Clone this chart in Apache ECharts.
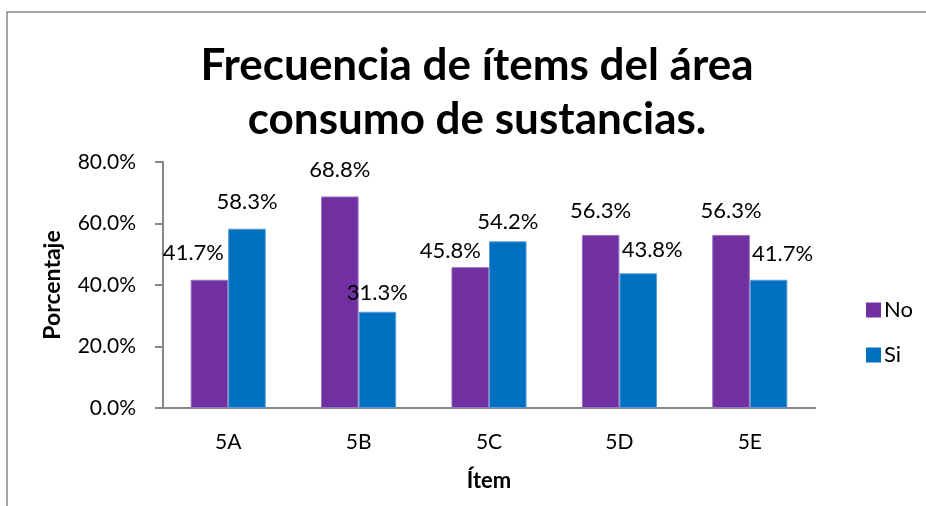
<!DOCTYPE html>
<html>
<head>
<meta charset="utf-8">
<script src="https://cdn.jsdelivr.net/npm/echarts@6/dist/echarts.min.js"></script>
<style>
  html, body { margin: 0; padding: 0; background: #fff; }
  #chart { width: 926px; height: 506px; }
</style>
</head>
<body>
<div id="chart"></div>
<script>
// datos
const items = ['5A', '5B', '5C', '5D', '5E'];
const noValues = [41.7, 68.8, 45.8, 56.3, 56.3];
const siValues = [58.3, 31.3, 54.2, 43.8, 41.7];
const yTicks = [0, 20, 40, 60, 80];

const font = 'Lato, "Open Sans", sans-serif';
const axisGray = '#868686';

let myChart = echarts.init(document.getElementById('chart'));

// en el original las etiquetas fueron movidas a mano
const noOffsets = [[-16, -3], [0, -3], [-20, 8], [0, 0], [0, 0]];
const siOffsets = [[0, -3], [0, 5], [0, 5], [14, 1], [14, -2]];

let option = {
    animation: false,
    textStyle: { fontFamily: font },
    graphic: [{
        type: 'polyline',
        shape: { points: [[7, 506], [7, 12], [926, 12]] },
        style: { fill: 'none', stroke: axisGray, lineWidth: 1.5 },
        silent: true
    }],
    title: {
        text: 'Frecuencia de ítems del área\nconsumo de sustancias.',
        left: 472,
        textAlign: 'center',
        top: 34,
        textStyle: {
            fontFamily: font,
            fontSize: 44,
            fontWeight: 'bold',
            color: '#000',
            lineHeight: 54
        }
    },
    legend: {
        orient: 'vertical',
        left: 861,
        top: 294,
        icon: 'rect',
        itemWidth: 15,
        itemHeight: 15,
        itemGap: 23,
        itemStyle: { borderWidth: 0 },
        textStyle: { fontFamily: font, fontSize: 22, color: '#000', padding: [0, 0, 0, -2] },
        data: ['No', 'Si']
    },
    grid: {
        left: 163,
        right: 111,
        top: 162,
        bottom: 98
    },
    xAxis: {
        type: 'category',
        data: items,
        name: 'Ítem',
        nameLocation: 'middle',
        nameGap: 62,
        nameTextStyle: { fontFamily: font, fontSize: 22, fontWeight: 'bold', color: '#000' },
        axisLine: { lineStyle: { color: axisGray, width: 2 } },
        axisTick: { show: false },
        axisLabel: { fontFamily: font, fontSize: 21, color: '#000', margin: 24 }
    },
    yAxis: {
        type: 'value',
        min: yTicks[0],
        max: yTicks[yTicks.length - 1],
        interval: yTicks[1] - yTicks[0],
        name: 'Porcentaje',
        nameLocation: 'middle',
        nameGap: 99,
        nameTextStyle: { fontFamily: font, fontSize: 23, fontWeight: 'bold', color: '#000' },
        axisLine: { show: true, lineStyle: { color: axisGray, width: 2 } },
        axisTick: { show: true, length: 8, lineStyle: { color: axisGray, width: 2 } },
        splitLine: { show: false },
        axisLabel: {
            fontFamily: font,
            fontSize: 21,
            color: '#000',
            margin: 27,
            formatter: v => v.toFixed(1) + '%'
        }
    },
    series: [
        {
            name: 'No',
            type: 'bar',
            barWidth: '28.8%',
            barGap: '0%',
            itemStyle: { color: '#7030A0', borderColor: '#9b74c4', borderWidth: 1 },
            label: {
                show: true,
                position: 'top',
                distance: 13,
                fontFamily: font,
                fontSize: 22,
                color: '#000',
                formatter: p => p.value.toFixed(1) + '%'
            },
            data: noValues.map((v, i) => ({ value: v, label: { offset: noOffsets[i] } }))
        },
        {
            name: 'Si',
            type: 'bar',
            barWidth: '28.8%',
            barGap: '0%',
            itemStyle: { color: '#0070C0', borderColor: '#5b9bd5', borderWidth: 1 },
            label: {
                show: true,
                position: 'top',
                distance: 13,
                fontFamily: font,
                fontSize: 22,
                color: '#000',
                formatter: p => p.value.toFixed(1) + '%'
            },
            data: siValues.map((v, i) => ({ value: v, label: { offset: siOffsets[i] } }))
        }
    ]
};
myChart.setOption(option);
</script>
</body>
</html>
